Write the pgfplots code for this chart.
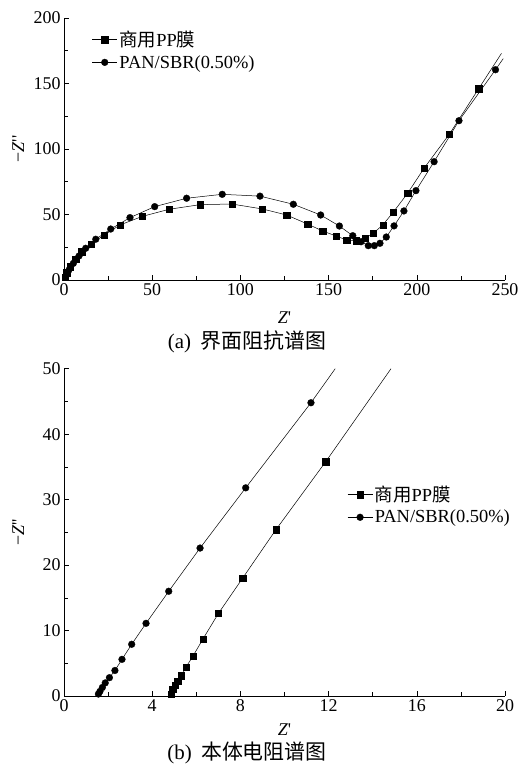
\documentclass[border=0pt]{standalone}
\usepackage{fontspec}
\setmainfont{Liberation Serif}
\newfontfamily\cjk{Noto Sans CJK SC}
\usepackage{pgfplots}
\pgfplotsset{compat=1.18}
\newcommand{\fs}{\fontsize{18}{21}\selectfont}
\newcommand{\pr}{\textquotesingle}
\pgfplotsset{
  myax/.style={
    scale only axis, width=441bp,
    axis lines*=left,
    every outer x axis line/.append style={-},
    every outer y axis line/.append style={-},
    tick align=inside,
    tick pos=left,
    major tick length=5bp, minor tick length=4bp,
    minor x tick num=1, minor y tick num=1,
    tick style={black, line width=0.6bp},
    axis line style={-, line width=0.7bp},
    tick label style={font=\fs},
    /pgf/number format/assume math mode=true,
    label style={font=\fs},
    xlabel={\textit{Z}\pr},
    ylabel={−\textit{Z}\pr\pr},
    every axis y label/.style={at={(axis description cs:-0.104,0.5)}, rotate=90, anchor=center, font=\fs},
    every axis x label/.style={at={(axis description cs:0.5,0)}, anchor=center, yshift=-38bp, font=\fs},
    legend style={draw=none, fill=none, font=\fontsize{18.5}{21}\selectfont, legend cell align=left, row sep=3bp, inner sep=0bp},
    legend image code/.code={\draw[mark repeat=2,mark phase=2,##1] plot coordinates {(0bp,0bp) (12.5bp,0bp) (25bp,0bp)};},
  },
  sq/.style={black, line width=0.5bp, mark=square*, mark size=3.1bp, mark options={fill=black, line width=0.3bp}},
  ci/.style={black, line width=0.5bp, mark=*, mark size=3.4bp, mark options={fill=black, line width=0.3bp}},
}
\begin{document}
\begin{tikzpicture}[x=1bp,y=1bp]
\path[use as bounding box] (0,0) rectangle (519,768);
% (a)
\begin{axis}[myax, at={(64bp,488bp)}, anchor=south west, height=262bp,
  xmin=0, xmax=250, ymin=0, ymax=200,
  xtick={0,50,...,250}, ytick={0,50,...,200},
  legend style={at={(rel axis cs:0.063,0.958)}, anchor=north west}]
\addplot[sq] coordinates {(0.6,2) (1.5,5.6) (3.4,10.2) (6.6,15.8) (10,21.6) (15.3,27.5) (22.9,34.4) (31.7,42) (44.5,48.6) (59.7,54) (77.1,57.5) (95.1,58) (112.5,54.2) (126.2,49.6) (138.1,42.7) (146.6,37.4) (154.2,33.6) (160.2,30.5) (165.5,30) (170.6,31.8) (175.3,35.6) (180.7,42) (186.5,51.5) (194.8,66.2) (204.1,85.3) (218.4,111.2) (235.1,146.1)};
\addlegendentry{{\cjk 商用}PP{\cjk 膜}}
\addplot[ci] coordinates {(1.1,3) (2.8,7.6) (5.3,12.7) (8.5,18.3) (12.3,24.2) (18,31.1) (26.5,38.9) (37.4,47.6) (51.4,56) (69.5,62.4) (89.7,65.4) (111.1,64) (130,57.8) (145.5,49.6) (156.1,41.2) (163.7,33.8) (168.4,29.2) (172.5,26.2) (175.9,26.2) (179.1,28) (182.7,32.8) (187.1,41.3) (192.7,52.7) (199.5,68.2) (209.8,90.3) (223.9,121.6) (244.6,160.5)};
\addlegendentry{PAN/SBR(0.50\%)}
\addplot[black, line width=0.5bp, forget plot] coordinates {(235.1,146.1) (248,173)};
\addplot[black, line width=0.5bp, forget plot] coordinates {(244.6,160.5) (249,169)};
\end{axis}
\node[font=\fontsize{21}{24}\selectfont] at (247,426) {(a)\hspace{0.45em}{\cjk 界面阻抗谱图}};
% (b)
\begin{axis}[myax, at={(64bp,72bp)}, anchor=south west, height=327.3bp,
  xmin=0, xmax=20, ymin=0, ymax=50,
  xtick={0,4,...,20}, ytick={0,10,...,50},
  every axis x label/.append style={yshift=4bp},
  legend style={at={(rel axis cs:0.642,0.648)}, anchor=north west}]
\addplot[sq] coordinates {(4.85,0.3) (4.93,1.0) (5.03,1.6) (5.15,2.3) (5.33,3.1) (5.53,4.4) (5.85,6.1) (6.3,8.7) (7.0,12.6) (8.1,18.0) (9.61,25.4) (11.87,35.8)};
\addlegendentry{{\cjk 商用}PP{\cjk 膜}}
\addplot[ci] coordinates {(1.56,0.3) (1.63,0.7) (1.74,1.3) (1.87,2.0) (2.06,2.8) (2.31,3.9) (2.63,5.6) (3.07,7.9) (3.72,11.1) (4.75,16.0) (6.17,22.6) (8.24,31.8) (11.2,44.8)};
\addlegendentry{PAN/SBR(0.50\%)}
\addplot[black, line width=0.5bp, forget plot] coordinates {(11.87,35.8) (14.83,50)};
\addplot[black, line width=0.5bp, forget plot] coordinates {(11.2,44.8) (12.3,50)};
\end{axis}
\node[font=\fontsize{21}{24}\selectfont] at (247,15) {(b)\hspace{0.45em}{\cjk 本体电阻谱图}};
\end{tikzpicture}
\end{document}
